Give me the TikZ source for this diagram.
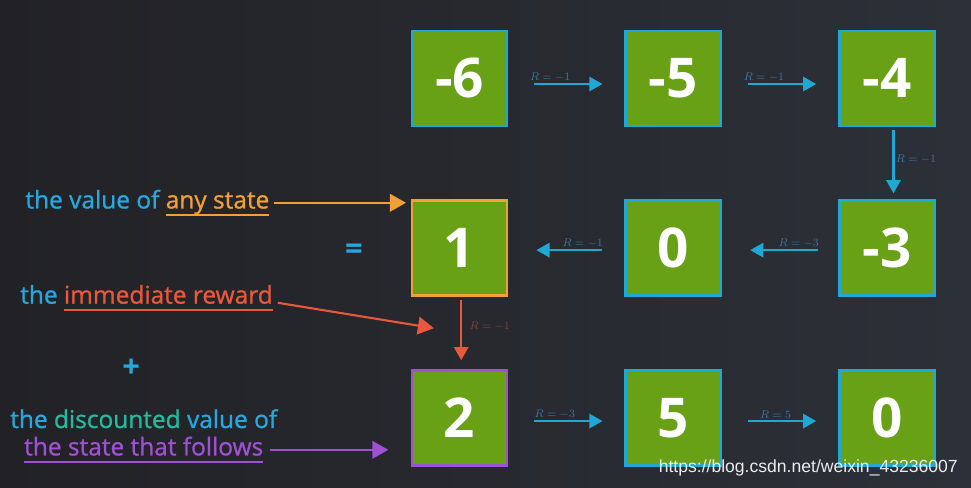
\documentclass[tikz,border=0pt]{standalone}
\usepackage{fontspec}
\setmainfont{Open Sans}
\newfontfamily\sayfont[FakeBold=1]{Open Sans}
\newfontfamily\wmfont{Liberation Sans}
\usetikzlibrary{arrows.meta, positioning}

\definecolor{bgleft}{RGB}{34,34,38}
\definecolor{bgright}{RGB}{44,48,56}
\definecolor{cellgreen}{RGB}{104,160,22}
\definecolor{edgecyan}{RGB}{32,168,212}
\definecolor{txtcyan}{RGB}{38,168,222}
\definecolor{txtteal}{RGB}{36,186,160}
\definecolor{txtorange}{RGB}{240,160,52}
\definecolor{txtred}{RGB}{232,88,60}
\definecolor{txtpurple}{RGB}{160,80,210}
\definecolor{labblue}{RGB}{56,120,160}
\definecolor{labred}{RGB}{130,66,56}

% underline a bit below the baseline
\newcommand{\ulword}[1]{{\setbox0\hbox{#1}\rlap{\rule[-0.3em]{\wd0}{0.07em}}\box0}}

\begin{document}
\begin{tikzpicture}[
    state/.style={rectangle, draw=edgecyan, fill=cellgreen, line width=1.8pt, minimum size=2.38cm, inner sep=0pt, text=white, font=\fontsize{39}{39}\selectfont\bfseries},
    move/.style={-{Triangle[length=3.3mm, width=3.6mm]}, line width=1.5pt, draw=edgecyan},
    rlab/.style={font=\fontsize{8.5}{8.5}\selectfont, text=labblue, inner sep=1pt},
    say/.style={anchor=west, inner sep=0pt, font=\sayfont\fontsize{17.4}{19}\selectfont, text=txtcyan},
    point/.style={-{Triangle[length=4mm, width=4.4mm]}, line width=1.5pt}
]

% background
\shade[left color=bgleft, right color=bgright] (0,0) rectangle (24.275,-12.175);
\useasboundingbox (0,0) rectangle (24.275,-12.175);

% the grid of states
\node[state] (s6) at (11.49,-1.96) {-6};
\node[state, right=2.9cm of s6] (s5) {-5};
\node[state, right=2.9cm of s5] (s4) {-4};
\node[state, below=1.8cm of s4] (s3) {-3};
\node[state, below=1.8cm of s5] (s0a) {0};
\node[state, below=1.8cm of s6, draw=txtorange] (s1) {1};
\node[state, below=1.8cm of s1, draw=txtpurple] (s2) {2};
\node[state, right=2.9cm of s2] (s5b) {5};
\node[state, right=2.9cm of s5b] (s0b) {0};

% transitions
\draw[move, shorten <=0.65cm, shorten >=0.55cm] ([yshift=-0.14cm]s6.east) -- node[rlab, above, pos=0.36] {$R=-1$} ([yshift=-0.14cm]s5.west);
\draw[move, shorten <=0.65cm, shorten >=0.55cm] ([yshift=-0.14cm]s5.east) -- node[rlab, above, pos=0.36] {$R=-1$} ([yshift=-0.14cm]s4.west);
\draw[move, shorten <=0.08cm, shorten >=0.15cm] ([xshift=0.16cm]s4.south) -- node[rlab, right, pos=0.45] {$R=-1$} ([xshift=0.16cm]s3.north);
\draw[move, shorten <=0.5cm, shorten >=0.7cm] ([yshift=-0.05cm]s3.west) -- node[rlab, above, pos=0.34] {$R=-3$} ([yshift=-0.05cm]s0a.east);
\draw[move, shorten <=0.55cm, shorten >=0.7cm] ([yshift=-0.05cm]s0a.west) -- node[rlab, above, pos=0.36] {$R=-1$} ([yshift=-0.05cm]s1.east);
\draw[move, draw=txtred, shorten <=0.08cm, shorten >=0.22cm] ([xshift=0.04cm]s1.south) -- node[rlab, text=labred, right=0.15cm, pos=0.4] {$R=-1$} ([xshift=0.04cm]s2.north);
\draw[move, shorten <=0.65cm, shorten >=0.55cm] ([yshift=-0.08cm]s2.east) -- node[rlab, above, pos=0.4] {$R=-3$} ([yshift=-0.08cm]s5b.west);
\draw[move, shorten <=0.65cm, shorten >=0.55cm] ([yshift=-0.08cm]s5b.east) -- node[rlab, above, pos=0.46] {$R=5$} ([yshift=-0.08cm]s0b.west);

% the equation on the left
\node[say] (vtxt) at (0.63,-5.07) {the value of \textcolor{txtorange}{\ulword{any state}}};
\node[say, font=\fontsize{22}{22}\selectfont\bfseries] (eqs) at (8.62,-6.3) {=};
\node[say] (rtxt) at (0.5,-7.45) {the \textcolor{txtred}{\ulword{immediate reward}}};
\node[say, font=\fontsize{22}{22}\selectfont\bfseries] (pls) at (3.05,-9.2) {+};
\node[say, align=center, font=\sayfont\fontsize{17.4}{19.5}\selectfont] (dtxt) at (0.25,-10.9) {the \textcolor{txtteal}{discounted} value of\\\textcolor{txtpurple}{\ulword{the state that follows}}};

\draw[point, draw=txtorange, shorten <=0.12cm, shorten >=0.12cm] (vtxt.east) -- (vtxt.east -| s1.west);
\draw[point, draw=txtred, shorten <=0.12cm] ([yshift=-0.1cm]rtxt.east) -- ([shift={(0.58,-0.78)}]s1.south west);
\draw[point, draw=txtpurple, shorten >=0.38cm] ([shift={(-0.18,0.33)}]dtxt.south east) -- ([shift={(-0.18,0.33)}]dtxt.south east -| s2.west);

% watermark
\node[anchor=east, inner sep=0pt, text=white!85!gray, font=\wmfont\fontsize{12.5}{13}\selectfont] (wm) at (23.95,-11.7) {https://blog.csdn.net/weixin\_43236007};
\end{tikzpicture}
\end{document}
